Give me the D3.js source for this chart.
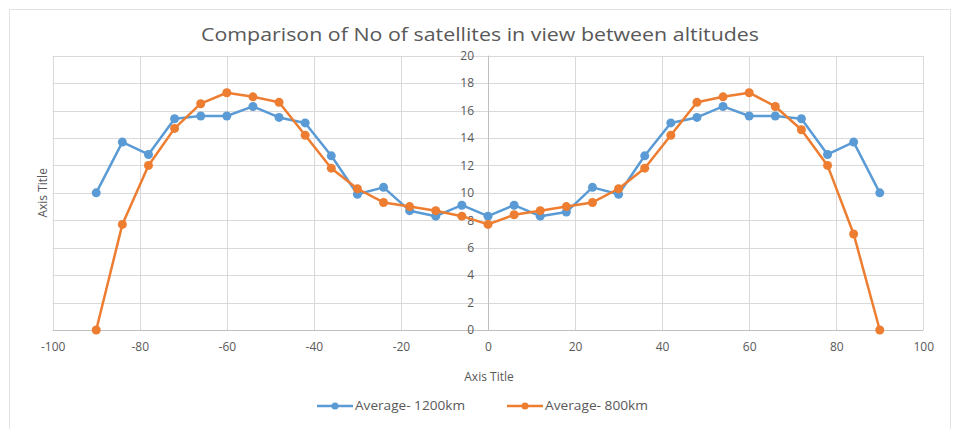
<!DOCTYPE html>
<html>
<head>
<meta charset="utf-8">
<script src="https://cdn.jsdelivr.net/npm/d3@7"></script>
<style>
  html, body { margin: 0; padding: 0; background: #fff; }
  svg { display: block; font-family: "Open Sans", "Noto Sans", sans-serif; }
</style>
</head>
<body>
<svg id="chart" width="955" height="429"></svg>
<script>
// Latitude samples (degrees)
const latitudes = [-90, -84, -78, -72, -66, -60, -54, -48, -42, -36, -30, -24, -18, -12, -6,
                   0, 6, 12, 18, 24, 30, 36, 42, 48, 54, 60, 66, 72, 78, 84, 90];
// Average number of satellites in view, 1200 km altitude
const avg1200 = [10, 13.7, 12.8, 15.4, 15.6, 15.6, 16.3, 15.5, 15.1, 12.7, 9.9, 10.4, 8.7, 8.3, 9.1,
                 8.3, 9.1, 8.3, 8.6, 10.4, 9.9, 12.7, 15.1, 15.5, 16.3, 15.6, 15.6, 15.4, 12.8, 13.7, 10];
// Average number of satellites in view, 800 km altitude
const avg800 = [0, 7.7, 12.0, 14.7, 16.5, 17.3, 17.0, 16.6, 14.2, 11.8, 10.3, 9.3, 9.0, 8.7, 8.3,
                7.7, 8.4, 8.7, 9.0, 9.3, 10.3, 11.8, 14.2, 16.6, 17.0, 17.3, 16.3, 14.6, 12.0, 7.0, 0];
const seriesNames = ["Average- 1200km", "Average- 800km"];
const seriesColors = ["#5B9BD5", "#ED7D31"];
const xTicks = [-100, -80, -60, -40, -20, 0, 20, 40, 60, 80, 100];
const yTicks = [0, 2, 4, 6, 8, 10, 12, 14, 16, 18, 20];

const svg = d3.select("#chart");
const textColor = "#595959";

// chart frame
svg.append("rect")
  .attr("x", 9.5).attr("y", 9.5).attr("width", 941).attr("height", 430)
  .attr("fill", "#fff").attr("stroke", "#e3e3e3").attr("stroke-width", 1);

const x = d3.scaleLinear().domain([-100, 100]).range([52.7, 923.3]);
const y = d3.scaleLinear().domain([0, 20]).range([330, 55.7]);

// gridlines
const grid = svg.append("g");
grid.selectAll("line.h").data(yTicks).join("line")
  .attr("x1", x(-100)).attr("x2", x(100))
  .attr("y1", d => Math.round(y(d)) + 0.5).attr("y2", d => Math.round(y(d)) + 0.5)
  .attr("stroke", d => d === 0 ? "#bfbfbf" : "#d9d9d9").attr("stroke-width", 1);
grid.selectAll("line.v").data(xTicks).join("line")
  .attr("y1", y(0)).attr("y2", y(20))
  .attr("x1", d => Math.round(x(d)) + 0.5).attr("x2", d => Math.round(x(d)) + 0.5)
  .attr("stroke", d => d === 0 ? "#bfbfbf" : "#d9d9d9").attr("stroke-width", 1);

// plain hyphen for negative labels
const fmt = d => String(d);

// x axis labels
const xAxis = d3.axisBottom(x).tickValues(xTicks).tickFormat(fmt).tickSize(0).tickPadding(0);
const gx = svg.append("g").attr("transform", `translate(0,${y(0) + 10})`).call(xAxis);
gx.select(".domain").remove();
gx.selectAll("text").attr("fill", textColor).attr("font-size", 12)
  .attr("font-family", "'Open Sans', sans-serif").attr("dy", "0.9em");

// y axis labels, placed against the zero meridian
const yAxis = d3.axisLeft(y).tickValues(yTicks).tickFormat(fmt).tickSize(0).tickPadding(0);
const gy = svg.append("g").attr("transform", `translate(${x(0) - 14},0)`).call(yAxis);
gy.select(".domain").remove();
gy.selectAll("text").attr("fill", textColor).attr("font-size", 12)
  .attr("font-family", "'Open Sans', sans-serif");

// series
const series = [avg1200, avg800];
const line = d3.line().x((d, i) => x(latitudes[i])).y(d => y(d));
series.forEach((vals, s) => {
  const g = svg.append("g");
  g.append("path").datum(vals)
    .attr("d", line).attr("fill", "none")
    .attr("stroke", seriesColors[s]).attr("stroke-width", 2.5)
    .attr("stroke-linejoin", "round");
  g.selectAll("circle").data(vals).join("circle")
    .attr("cx", (d, i) => x(latitudes[i])).attr("cy", d => y(d))
    .attr("r", 4.5).attr("fill", seriesColors[s]);
});

// title
svg.append("text")
  .attr("x", 480).attr("y", 41).attr("text-anchor", "middle")
  .attr("font-size", 18).attr("fill", textColor)
  .attr("textLength", 558).attr("lengthAdjust", "spacingAndGlyphs")
  .text("Comparison of No of satellites in view between altitudes");

// axis titles
svg.append("text")
  .attr("x", 489).attr("y", 381).attr("text-anchor", "middle")
  .attr("font-size", 12).attr("fill", textColor)
  .text("Axis Title");
svg.append("text")
  .attr("transform", `translate(47,${(y(0) + y(20)) / 2}) rotate(-90)`)
  .attr("text-anchor", "middle")
  .attr("font-size", 12).attr("fill", textColor)
  .text("Axis Title");

// legend
const legendX = [317, 507];
const legendTextLen = [110, 103];
seriesNames.forEach((name, s) => {
  const g = svg.append("g").attr("transform", `translate(${legendX[s]},406)`);
  g.append("line").attr("x1", 0).attr("x2", 36).attr("y1", 0).attr("y2", 0)
    .attr("stroke", seriesColors[s]).attr("stroke-width", 2.5);
  g.append("circle").attr("cx", 18).attr("cy", 0).attr("r", 3.5).attr("fill", seriesColors[s]);
  g.append("text").attr("x", 38).attr("y", 0).attr("dy", "0.35em")
    .attr("font-size", 12).attr("fill", textColor)
    .attr("textLength", legendTextLen[s]).attr("lengthAdjust", "spacingAndGlyphs")
    .text(name);
});
</script>
</body>
</html>
